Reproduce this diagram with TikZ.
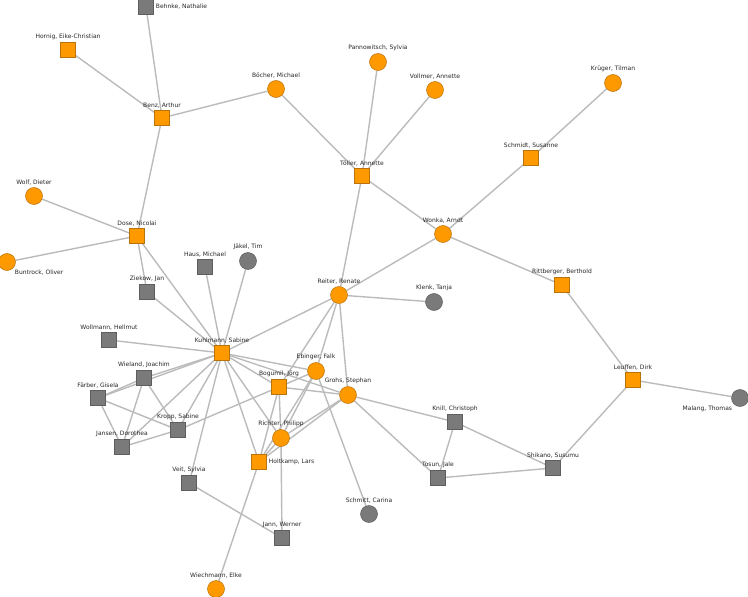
\documentclass[tikz,border=0pt]{standalone}
\usepackage{fontspec}
\setmainfont{DejaVu Sans}
\usepackage{tikz}
\usetikzlibrary{backgrounds}
\definecolor{netorange}{HTML}{FF9900}
\definecolor{netorangedk}{HTML}{B8730A}
\definecolor{netgray}{HTML}{7A7A7A}
\definecolor{netgraydk}{HTML}{5E5E5E}
\definecolor{netedge}{HTML}{BBBBBB}

\begin{document}
\begin{tikzpicture}[
  x=1pt, y=-1pt,
  osq/.style={rectangle, draw=netorangedk, fill=netorange, line width=0.5pt,
    minimum size=15pt, inner sep=0pt},
  oci/.style={circle, draw=netorangedk, fill=netorange, line width=0.5pt,
    minimum size=17pt, inner sep=0pt},
  gsq/.style={rectangle, draw=netgraydk, fill=netgray, line width=0.5pt,
    minimum size=15pt, inner sep=0pt},
  gci/.style={circle, draw=netgraydk, fill=netgray, line width=0.5pt,
    minimum size=17pt, inner sep=0pt},
  every label/.style={font=\fontsize{6}{7}\selectfont, text=black!85, inner sep=0.5pt},
  label distance=1.5pt,
  link/.style={draw=netedge, line width=1.4pt},
]
  \useasboundingbox (0,0) rectangle (748,597);

  % upper part
  \node[gsq, label={right:{Behnke, Nathalie}}] (behnke) at (146,7) {};
  \node[osq, label={above:{Hornig, Eike-Christian}}] (hornig) at (68,50) {};
  \node[osq, label={above:{Benz, Arthur}}] (benz) at (162,118) {};
  \node[oci, label={above:{Böcher, Michael}}] (boecher) at (276,89) {};
  \node[oci, label={above:{Pannowitsch, Sylvia}}] (pannow) at (378,62) {};
  \node[oci, label={above:{Vollmer, Annette}}] (vollmer) at (435,90) {};
  \node[osq, label={above:{Töller, Annette}}] (toeller) at (362,176) {};
  \node[oci, label={above:{Krüger, Tilman}}] (krueger) at (613,83) {};
  \node[osq, label={above:{Schmidt, Susanne}}] (schmidt) at (531,158) {};
  \node[oci, label={above:{Wolf, Dieter}}] (wolf) at (34,196) {};
  \node[osq, label={above:{Dose, Nicolai}}] (dose) at (137,236) {};
  \node[oci, label={below right:{Buntrock, Oliver}}] (buntrock) at (7,262) {};
  \node[gsq, label={above:{Haus, Michael}}] (haus) at (205,267) {};
  \node[gci, label={above:{Jäkel, Tim}}] (jaekel) at (248,261) {};
  \node[gsq, label={above:{Ziekow, Jan}}] (ziekow) at (147,292) {};
  \node[oci, label={above:{Wonka, Arndt}}] (wonka) at (443,234) {};
  \node[osq, label={above:{Rittberger, Berthold}}] (rittb) at (562,285) {};
  \node[oci, label={above:{Reiter, Renate}}] (reiter) at (339,295) {};
  \node[gci, label={above:{Klenk, Tanja}}] (klenk) at (434,302) {};

  % middle part
  \node[gsq, label={above:{Wollmann, Hellmut}}] (wollmann) at (109,340) {};
  \node[osq, label={above:{Kuhlmann, Sabine}}] (kuhlmann) at (222,353) {};
  \node[gsq, label={above:{Wieland, Joachim}}] (wieland) at (144,378) {};
  \node[gsq, label={above:{Färber, Gisela}}] (faerber) at (98,398) {};
  \node[oci, label={above:{Ebinger, Falk}}] (ebinger) at (316,371) {};
  \node[osq, label={above:{Bogumil, Jörg}}] (bogumil) at (279,387) {};
  \node[oci, label={above:{Grohs, Stephan}}] (grohs) at (348,395) {};
  \node[osq, label={above:{Leuffen, Dirk}}] (leuffen) at (633,380) {};
  \node[gci, label={below left:{Malang, Thomas}}] (malang) at (740,398) {};
  \node[gsq, label={above:{Kropp, Sabine}}] (kropp) at (178,430) {};
  \node[gsq, label={above:{Jansen, Dorothea}}] (jansen) at (122,447) {};
  \node[gsq, label={above:{Knill, Christoph}}] (knill) at (455,422) {};
  \node[oci, label={above:{Richter, Philipp}}] (richter) at (281,438) {};
  \node[osq, label={right:{Holtkamp, Lars}}] (holtkamp) at (259,462) {};

  % lower part
  \node[gsq, label={above:{Tosun, Jale}}] (tosun) at (438,478) {};
  \node[gsq, label={above:{Shikano, Susumu}}] (shikano) at (553,468) {};
  \node[gsq, label={above:{Veit, Sylvia}}] (veit) at (189,483) {};
  \node[gci, label={above:{Schmitt, Carina}}] (schmitt) at (369,514) {};
  \node[gsq, label={above:{Jann, Werner}}] (jann) at (282,538) {};
  \node[oci, label={above:{Wiechmann, Elke}}] (wiechm) at (216,589) {};

  % co-authorship links
  \begin{scope}[on background layer]
    \foreach \a/\b in {behnke/benz, hornig/benz, benz/boecher, benz/dose,
      boecher/toeller, pannow/toeller, vollmer/toeller, toeller/wonka,
      toeller/reiter, krueger/schmidt, schmidt/wonka, wonka/rittb,
      wonka/reiter, rittb/leuffen, leuffen/malang, leuffen/shikano,
      wolf/dose, buntrock/dose, dose/ziekow, dose/kuhlmann,
      ziekow/kuhlmann, haus/kuhlmann, jaekel/kuhlmann, wollmann/kuhlmann,
      reiter/kuhlmann, reiter/klenk, reiter/bogumil, reiter/ebinger,
      reiter/grohs, kuhlmann/wieland, kuhlmann/faerber, kuhlmann/jansen,
      kuhlmann/kropp, kuhlmann/veit, kuhlmann/holtkamp, kuhlmann/richter,
      kuhlmann/bogumil, kuhlmann/ebinger, kuhlmann/grohs,
      wieland/faerber, wieland/jansen, wieland/kropp, faerber/jansen,
      faerber/kropp, jansen/kropp, kropp/bogumil, bogumil/ebinger,
      bogumil/grohs, bogumil/richter, bogumil/holtkamp, ebinger/richter,
      ebinger/holtkamp, ebinger/schmitt, grohs/richter, grohs/holtkamp,
      grohs/knill, grohs/tosun, richter/holtkamp, richter/jann,
      holtkamp/wiechm, veit/jann, knill/tosun, knill/shikano, tosun/shikano}
      \draw[link] (\a) -- (\b);
  \end{scope}
\end{tikzpicture}
\end{document}
